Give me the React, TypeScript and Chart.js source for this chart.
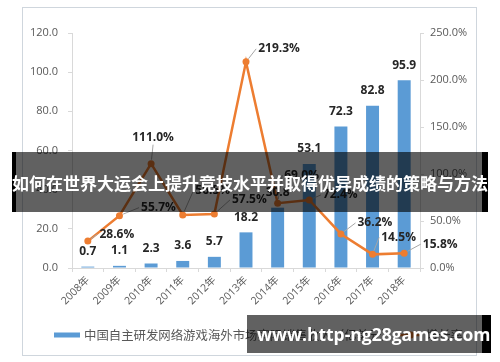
import React, { useEffect, useRef } from "react";
import { Chart, registerables } from "chart.js";

Chart.register(...registerables);

const years = ["2008年", "2009年", "2010年", "2011年", "2012年", "2013年", "2014年", "2015年", "2016年", "2017年", "2018年"];
const revenue = [0.7, 1.1, 2.3, 3.6, 5.7, 18.2, 30.8, 53.1, 72.3, 82.8, 95.9];
const growth = [28.6, 55.7, 111.0, 56.5, 57.5, 219.3, 69.0, 72.4, 36.2, 14.5, 15.8];
const barSeriesName = "中国自主研发网络游戏海外市场实际销售收入（亿美元）";
const lineSeriesName = "增长率";
const leftAxisMax = 120;
const leftAxisStep = 20;
const rightAxisMax = 250;
const rightAxisStep = 50;
const bannerText = "如何在世界大运会上提升竞技水平并取得优异成绩的策略与方法";
const watermarkText = "www.http-ng28games.com";

// label placement offsets (px) for growth labels, relative to each point
const growthLabelDx = [29, 39, 2, 30, 35, 33, 24, 31, 34, 26, 36];
const growthLabelDy = [-7, -8, -26, -24, -14, -13, -28, -5, -11, -17, -9];

const BAR_COLOR = "#5B9BD5";
const LINE_COLOR = "#ED7D31";
const TICK_COLOR = "#595959";
const AXIS_COLOR = "#d9d9d9";
const NUM_FONT = "'Open Sans', 'Noto Sans CJK SC', sans-serif";
const CJK_FONT = "'Noto Sans CJK SC', 'Open Sans', sans-serif";

const valueLabels = {
  id: "valueLabels",
  afterDatasetsDraw(chart: any) {
    const ctx = chart.ctx;
    ctx.save();
    ctx.font = "bold 12px " + NUM_FONT;
    ctx.fillStyle = "#262626";
    ctx.textAlign = "center";
    ctx.textBaseline = "middle";
    const barMeta = chart.getDatasetMeta(1);
    barMeta.data.forEach((el: any, i: number) => {
      ctx.fillText(revenue[i].toFixed(1), el.x, el.y - 15);
    });
    const lineMeta = chart.getDatasetMeta(0);
    lineMeta.data.forEach((pt: any, i: number) => {
      const text = growth[i].toFixed(1) + "%";
      const dx = growthLabelDx[i];
      const dy = growthLabelDy[i];
      const cx = pt.x + dx;
      const cy = pt.y + dy;
      const w = ctx.measureText(text).width;
      let tx: number, ty: number;
      if (Math.abs(dx) > w / 2 + 3) {
        tx = cx - Math.sign(dx) * (w / 2 + 2);
        ty = cy;
      } else {
        tx = cx;
        ty = cy + 7;
      }
      const ang = Math.atan2(ty - pt.y, tx - pt.x);
      ctx.strokeStyle = "#a6a6a6";
      ctx.lineWidth = 1;
      ctx.beginPath();
      ctx.moveTo(pt.x + Math.cos(ang) * 4, pt.y + Math.sin(ang) * 4);
      ctx.lineTo(tx, ty);
      ctx.stroke();
      ctx.fillText(text, cx, cy);
    });
    ctx.restore();
  },
};

const customLegend = {
  id: "customLegend",
  afterDraw(chart: any) {
    const ctx = chart.ctx;
    ctx.save();
    const y = 335;
    let x = 54;
    ctx.fillStyle = BAR_COLOR;
    ctx.fillRect(x, y - 2.5, 26, 5);
    x += 30;
    ctx.font = "12.4px " + CJK_FONT;
    ctx.fillStyle = TICK_COLOR;
    ctx.textAlign = "left";
    ctx.textBaseline = "middle";
    const name0 = chart.data.datasets[1].label;
    ctx.fillText(name0, x, y);
    x += ctx.measureText(name0).width + 6;
    ctx.strokeStyle = LINE_COLOR;
    ctx.lineWidth = 2.5;
    ctx.beginPath();
    ctx.moveTo(x, y);
    ctx.lineTo(x + 22, y);
    ctx.stroke();
    ctx.fillStyle = LINE_COLOR;
    ctx.beginPath();
    ctx.arc(x + 11, y, 3.5, 0, Math.PI * 2);
    ctx.fill();
    x += 26;
    ctx.fillStyle = TICK_COLOR;
    ctx.fillText(chart.data.datasets[0].label, x, y);
    ctx.restore();
  },
};

function ChartCanvas() {
  const ref = useRef<HTMLCanvasElement | null>(null);
  useEffect(() => {
    if (!ref.current) return;
    const chart = new Chart(ref.current, {
      type: "bar",
      data: {
        labels: years,
        datasets: [
          {
            type: "line",
            label: lineSeriesName,
            data: growth,
            yAxisID: "y1",
            borderColor: LINE_COLOR,
            backgroundColor: LINE_COLOR,
            borderWidth: 2.5,
            pointRadius: 3.5,
            pointBackgroundColor: LINE_COLOR,
            pointBorderWidth: 0,
            tension: 0,
            order: 0,
          } as any,
          {
            type: "bar",
            label: barSeriesName,
            data: revenue,
            yAxisID: "y",
            backgroundColor: BAR_COLOR,
            barPercentage: 0.41,
            categoryPercentage: 1,
            order: 1,
          } as any,
        ],
      },
      options: {
        responsive: false,
        animation: false,
        devicePixelRatio: 1,
        layout: { padding: { left: 0, right: 0, top: 33, bottom: 0 } },
        plugins: { legend: { display: false }, tooltip: { enabled: false } },
        scales: {
          x: {
            grid: { drawOnChartArea: false, drawTicks: true, tickLength: 4, color: AXIS_COLOR },
            border: { display: true, color: AXIS_COLOR },
            ticks: {
              color: TICK_COLOR,
              font: { size: 10.5, family: NUM_FONT },
              maxRotation: 45,
              minRotation: 45,
              padding: 2,
            },
            afterFit: (s: any) => {
              s.height = 94;
            },
          },
          y: {
            position: "left",
            min: 0,
            max: leftAxisMax,
            grid: { drawOnChartArea: false, drawTicks: true, tickLength: 4, color: AXIS_COLOR },
            border: { display: true, color: AXIS_COLOR },
            ticks: {
              stepSize: leftAxisStep,
              color: TICK_COLOR,
              font: { size: 11, family: NUM_FONT },
              padding: 10,
              callback: (v: any) => Number(v).toFixed(1),
            },
            afterFit: (s: any) => {
              s.width = 72;
            },
          },
          y1: {
            position: "right",
            min: 0,
            max: rightAxisMax,
            grid: { drawOnChartArea: false, drawTicks: true, tickLength: 4, color: AXIS_COLOR },
            border: { display: true, color: AXIS_COLOR },
            ticks: {
              stepSize: rightAxisStep,
              color: TICK_COLOR,
              font: { size: 11, family: NUM_FONT },
              padding: 6,
              callback: (v: any) => Number(v).toFixed(1) + "%",
            },
            afterFit: (s: any) => {
              s.width = 80;
            },
          },
        },
      },
      plugins: [valueLabels, customLegend],
    });
    return () => chart.destroy();
  }, []);
  return <canvas ref={ref} width={500} height={362} style={{ position: "absolute", left: 0, top: 0, width: 500, height: 362 }} />;
}

export default function App() {
  return (
    <div style={{ position: "fixed", left: 0, top: 0, width: 500, height: 362, background: "#ffffff", overflow: "hidden" }}>
      <div style={{ position: "absolute", left: 22, top: 7, width: 453, height: 347, border: "1px solid #cfd6dd", background: "#fff" }} />
      <ChartCanvas />
      <div
        style={{
          position: "absolute",
          left: 12,
          top: 152,
          width: 476,
          height: 60,
          background: "linear-gradient(to right, #000 0px, #000 4px, rgba(0,0,0,0.62) 4px, rgba(0,0,0,0.62) 470px, #000 470px)",
          display: "flex",
          alignItems: "center",
          justifyContent: "center",
          color: "#fff",
          fontFamily: CJK_FONT,
          fontWeight: 700,
          fontSize: 17,
          whiteSpace: "nowrap",
          letterSpacing: 0,
        }}
      >
        {bannerText}
      </div>
      <div
        style={{
          position: "absolute",
          left: 247,
          top: 315,
          width: 244,
          height: 38,
          background: "linear-gradient(to right, rgba(0,0,0,0.62) 0px, rgba(0,0,0,0.62) 235px, #000 235px)",
          color: "#fff",
          fontFamily: "'Open Sans', sans-serif",
          fontWeight: 700,
          fontSize: 17.5,
          lineHeight: "38px",
          paddingLeft: 10,
          boxSizing: "border-box",
          whiteSpace: "nowrap",
        }}
      >
        {watermarkText}
      </div>
    </div>
  );
}
